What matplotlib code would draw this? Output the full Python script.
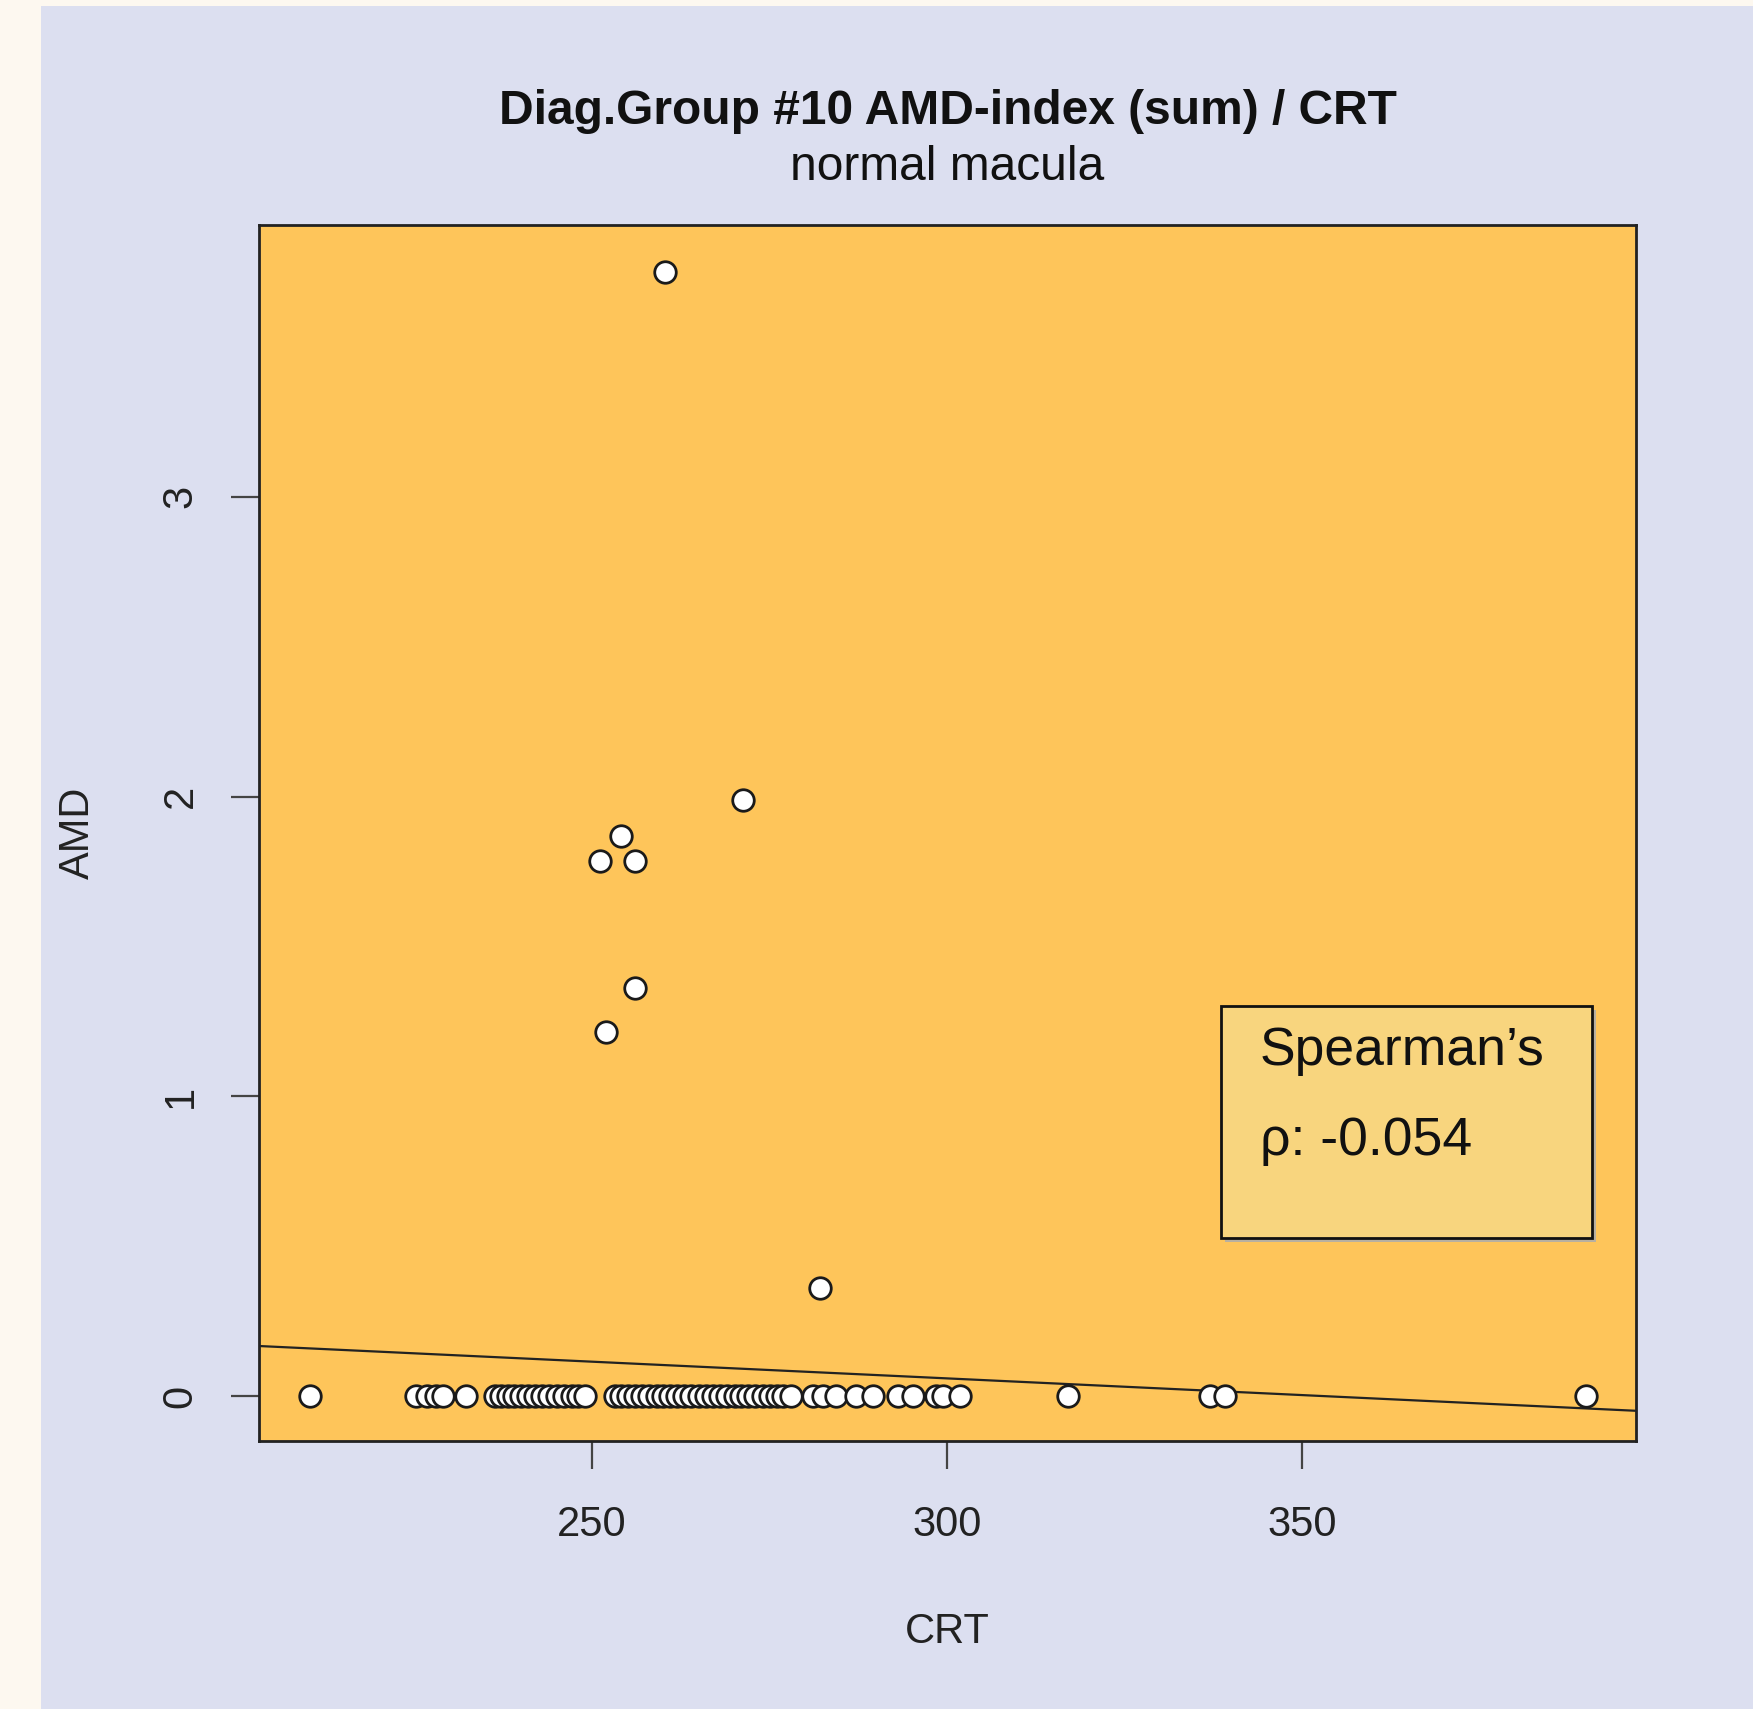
import numpy as np
import matplotlib
matplotlib.use("Agg")
import matplotlib.pyplot as plt
from matplotlib.patches import Rectangle

plt.rcParams['font.family'] = ['Liberation Sans', 'DejaVu Sans']

# points above zero
crt_pos = [260.2, 271.3, 254.1, 251.1, 256.1, 256.1, 252.0, 282.1]
amd_pos = [3.75, 1.99, 1.87, 1.785, 1.785, 1.36, 1.215, 0.36]

# points at AMD = 0
crt_zero = [210.3, 225.2, 226.8, 228.0, 229.0, 232.3,
            236.3, 237.2, 238.1, 239.0, 240.0, 241.0, 242.0, 243.0, 244.0,
            245.0, 246.1, 247.2, 248.0, 249.0,
            253.2, 254.1, 255.0, 256.0, 257.0, 258.0, 259.1, 260.0, 261.0,
            262.0, 263.0, 264.0, 265.1, 266.0, 267.0, 268.0, 269.0, 270.1,
            271.0, 272.0, 273.0, 274.0, 275.0, 276.0, 276.9,
            278.0, 281.1, 282.5, 284.4, 287.2, 289.5, 293.1, 295.2, 298.5,
            299.4, 301.8, 317.0, 337.0, 339.1, 389.9]
amd_zero = [0.0] * len(crt_zero)

fit_intercept = 0.394
fit_slope = -0.001114
rho = -0.054

xticks = [250, 300, 350]
yticks = [0, 1, 2, 3]

W, H = 1753, 1709
fig = plt.figure(figsize=(W / 100, H / 100), dpi=100)
fig.patch.set_facecolor('#fdf8f0')
bg = Rectangle((41 / W, 0), 1, 1 - 6 / H, transform=fig.transFigure,
               facecolor='#dcdff0', edgecolor='none', zorder=-10)
fig.add_artist(bg)

ax = fig.add_axes([259 / W, 1 - 1441 / H, (1636 - 259) / W, (1441 - 225) / H])
ax.set_facecolor('#fec55a')

x_all = crt_zero + crt_pos
y_all = amd_zero + amd_pos
ax.plot(x_all, y_all, 'o', ms=15.5, mfc='white', mec='#1a1a1a', mew=2.0, zorder=3)

ax.set_xlim(203.1, 397.0)
ax.set_ylim(-0.149, 3.906)
xs = np.array(ax.get_xlim())
ax.plot(xs, fit_intercept + fit_slope * xs, color='#222222', lw=1.6, zorder=2)

for s in ax.spines.values():
    s.set_linewidth(2)
    s.set_color('#222222')

ax.set_xticks(xticks)
ax.set_yticks(yticks)
ax.tick_params(axis='both', length=20, width=1.6, color='#444444', labelsize=30,
               labelcolor='#222222')
ax.tick_params(axis='x', pad=26)
ax.tick_params(axis='y', pad=22)
for lbl in ax.get_yticklabels():
    lbl.set_rotation(90)
    lbl.set_va('center')

ax.set_xlabel('CRT', fontsize=30, color='#222222', labelpad=48)
ax.set_ylabel('AMD', fontsize=30, color='#222222', labelpad=45)

cx = (259 + 1636) / 2 / W
fig.text(cx, 1 - 112 / H, 'Diag.Group #10 AMD-index (sum) / CRT',
         ha='center', va='center', fontsize=34.5, fontweight='bold', color='#111111')
fig.text(cx, 1 - 168 / H, 'normal macula',
         ha='center', va='center', fontsize=34.5, color='#111111')

# Spearman box
bx0, by0, bx1, by1 = 1221, 1006, 1592, 1238
fig.add_artist(Rectangle(((bx0 + 4) / W, 1 - (by1 + 4) / H),
                         (bx1 - bx0) / W, (by1 - by0) / H,
                         transform=fig.transFigure, facecolor='#b8b0a0',
                         edgecolor='none', zorder=4))
fig.add_artist(Rectangle((bx0 / W, 1 - by1 / H),
                         (bx1 - bx0) / W, (by1 - by0) / H,
                         transform=fig.transFigure, facecolor='#f8d57e',
                         edgecolor='#111111', lw=2, zorder=5))
fig.text(1260 / W, 1 - 1051 / H, 'Spearman\u2019s', ha='left', va='center',
         fontsize=38.5, color='#111111', zorder=6)
fig.text(1260 / W, 1 - 1141 / H, '\u03c1: %.3f' % rho, ha='left', va='center',
         fontsize=38.5, color='#111111', zorder=6)

fig.savefig('out.png', dpi=100, facecolor=fig.get_facecolor())
